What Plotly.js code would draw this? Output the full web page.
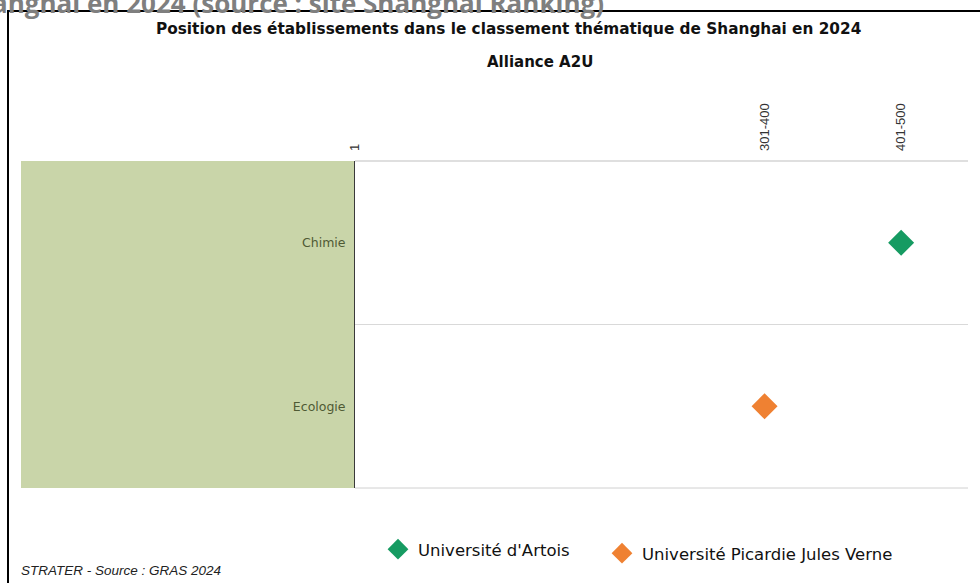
<!DOCTYPE html>
<html><head><meta charset="utf-8">
<script src="https://cdn.plot.ly/plotly-3.0.1.min.js"></script>
<style>html,body{margin:0;padding:0;background:#fff;}#chart{width:980px;height:583px;}</style>
</head><body><div id="chart"></div>
<script>
const categories = ['Chimie', 'Ecologie'];
const rankTickValues = [1, 301, 401];
const rankTickLabels = ['1', '301-400', '401-500'];
const artoisCategories = ['Chimie'];
const artoisRanks = [401];
const picardieCategories = ['Ecologie'];
const picardieRanks = [301];

const L = 355, R = 968, T = 161, B = 488, W = 980, H = 583;
const pw = R - L, ph = B - T;
const px = x => (x - L) / pw;
const py = y => (B - y) / ph;

const traces = [
  {type: 'scatter', mode: 'markers', name: "Université d'Artois",
   x: artoisRanks, y: artoisCategories, legend: 'legend',
   marker: {symbol: 'diamond', size: 20, color: '#169b62'}},
  {type: 'scatter', mode: 'markers', name: 'Université Picardie Jules Verne',
   x: picardieRanks, y: picardieCategories, legend: 'legend2',
   marker: {symbol: 'diamond', size: 20, color: '#ef8132'}}
];

const legendFont = {family: 'DejaVu Sans, sans-serif', size: 16.5, color: '#111'};

const layout = {
  width: W, height: H,
  margin: {l: L, r: W - R, t: T, b: H - B},
  paper_bgcolor: '#ffffff', plot_bgcolor: 'rgba(0,0,0,0)',
  showlegend: true,
  legend: {orientation: 'h', x: px(378), y: py(532), xanchor: 'left', yanchor: 'top',
           font: legendFont, bgcolor: 'rgba(0,0,0,0)'},
  legend2: {orientation: 'h', x: px(602), y: py(536), xanchor: 'left', yanchor: 'top',
           font: legendFont, bgcolor: 'rgba(0,0,0,0)'},
  xaxis: {side: 'top', range: [1, 450], tickmode: 'array', tickvals: rankTickValues,
          ticktext: rankTickLabels, tickangle: -90, showgrid: false, zeroline: false,
          ticks: '', ticklen: 0, ticklabelstandoff: 9,
          tickfont: {family: 'Liberation Sans, Arial, sans-serif', size: 13, color: '#333'},
          showline: false, fixedrange: true},
  yaxis: {type: 'category', categoryorder: 'array', categoryarray: categories,
          autorange: false, range: [1.5, -0.5], tickson: 'boundaries', showgrid: true,
          gridcolor: '#d9d9d9', gridwidth: 1, zeroline: false, ticks: '',
          showline: true, linecolor: '#3a3a3a', linewidth: 1,
          ticklabelstandoff: 6,
          tickfont: {family: 'DejaVu Sans, sans-serif', size: 12.5, color: '#4f5a34'}},
  shapes: [
    {type: 'rect', xref: 'paper', yref: 'paper', x0: px(21), x1: 0, y0: 0, y1: 1,
     fillcolor: '#c9d5a9', line: {width: 0}, layer: 'below'},
    {type: 'line', xref: 'paper', yref: 'paper', x0: 0, x1: 1, y0: 1, y1: 1,
     line: {color: '#bfbfbf', width: 1}},
    {type: 'line', xref: 'paper', yref: 'paper', x0: 0, x1: 1, y0: 0, y1: 0,
     line: {color: '#d0d0d0', width: 1}},
    {type: 'rect', xref: 'paper', yref: 'paper', x0: px(8), x1: px(990), y0: py(11), y1: py(600),
     line: {color: '#000', width: 2}, fillcolor: 'rgba(0,0,0,0)'}
  ],
  annotations: [
    {xref: 'paper', yref: 'paper', x: px(606), y: py(3.5), xanchor: 'right', yanchor: 'middle',
     text: '<b>dans le classement thématique de Shanghai en 2024 (source : site Shanghai Ranking)</b>', showarrow: false,
     font: {family: 'Open Sans, sans-serif', size: 26, color: '#7f7f7f'}},
    {xref: 'paper', yref: 'paper', x: px(508), y: py(29), xanchor: 'center', yanchor: 'middle',
     text: '<b>Position des établissements dans le classement thématique de Shanghai en 2024</b>',
     showarrow: false, font: {family: 'DejaVu Sans, sans-serif', size: 15.3, color: '#111'}},
    {xref: 'paper', yref: 'paper', x: px(540), y: py(62), xanchor: 'center', yanchor: 'middle',
     text: '<b>Alliance A2U</b>', showarrow: false,
     font: {family: 'DejaVu Sans, sans-serif', size: 15, color: '#111'}},
    {xref: 'paper', yref: 'paper', x: px(19), y: py(570), xanchor: 'left', yanchor: 'middle',
     text: '<i>STRATER - Source : GRAS 2024</i>', showarrow: false,
     font: {family: 'Liberation Sans, Arial, sans-serif', size: 13.5, color: '#222'}}
  ]
};

Plotly.newPlot('chart', traces, layout, {displayModeBar: false, staticPlot: true});
</script></body></html>
